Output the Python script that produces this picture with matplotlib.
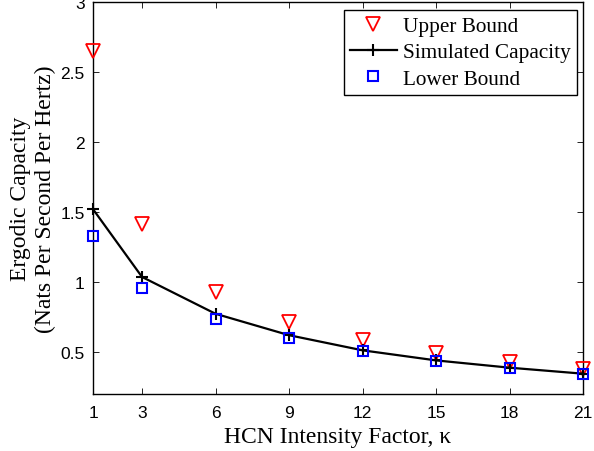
import numpy as np
import matplotlib
matplotlib.use("Agg")
import matplotlib.pyplot as plt

# valeurs
kappa = [1, 3, 6, 9, 12, 15, 18, 21]
borne_sup = [2.65, 1.414, 0.93, 0.714, 0.583, 0.495, 0.43, 0.376]
capacite_sim = [1.52, 1.036, 0.773, 0.62, 0.512, 0.44, 0.388, 0.345]
borne_inf = [1.326, 0.96, 0.738, 0.60, 0.505, 0.436, 0.386, 0.34]

xticks = [1, 3, 6, 9, 12, 15, 18, 21]
yticks = [0.5, 1, 1.5, 2, 2.5, 3]

serif = "Liberation Serif"
sans = "Liberation Sans"

fig = plt.figure(figsize=(5.94, 4.52), dpi=100)
ax = fig.add_axes([0.1566, 0.1261, 0.825, 0.8673])

ax.plot(kappa, borne_sup, linestyle="none", marker="v", markersize=9.5,
        markerfacecolor="none", markeredgecolor="red", markeredgewidth=1.3,
        label="Upper Bound", clip_on=False, zorder=3)
ax.plot(kappa, capacite_sim, color="black", linewidth=1.6, marker="+",
        markersize=8, markeredgewidth=1.5, label="Simulated Capacity",
        clip_on=False, zorder=4)
ax.plot(kappa, borne_inf, linestyle="none", marker="s", markersize=6.5,
        markerfacecolor="none", markeredgecolor="blue", markeredgewidth=1.5,
        label="Lower Bound", clip_on=False, zorder=5)

ax.set_xlim(1, 21)
ax.set_ylim(0.2, 3)
ax.set_xticks(xticks)
ax.set_xticklabels([str(t) for t in xticks], fontname=sans, fontsize=12.5)
ax.set_yticks(yticks)
ax.set_yticklabels(["0.5", "1", "1.5", "2", "2.5", "3"], fontname=sans, fontsize=12.5)
ax.tick_params(direction="in", top=True, right=True, length=4, width=0.6, pad=6)
ax.tick_params(axis="x", pad=8)
for s in ax.spines.values():
    s.set_linewidth(1.0)

ax.set_xlabel("HCN Intensity Factor, \u03ba", fontname=serif, fontsize=17, labelpad=4)
ax.set_ylabel("Ergodic Capacity\n(Nats Per Second Per Hertz)", fontname=serif,
              fontsize=17, linespacing=1.25, labelpad=3)

# cadre de la legende place comme sur la figure
leg = ax.legend(loc="upper right", bbox_to_anchor=(0.988, 0.98),
                prop={"family": serif, "size": 15.3},
                fancybox=False, framealpha=1, edgecolor="black",
                borderaxespad=0, handlelength=2.2, handletextpad=0.3,
                labelspacing=0.3, borderpad=0.3)
leg.get_frame().set_linewidth(1.0)

fig.savefig("out.png", dpi=100)
